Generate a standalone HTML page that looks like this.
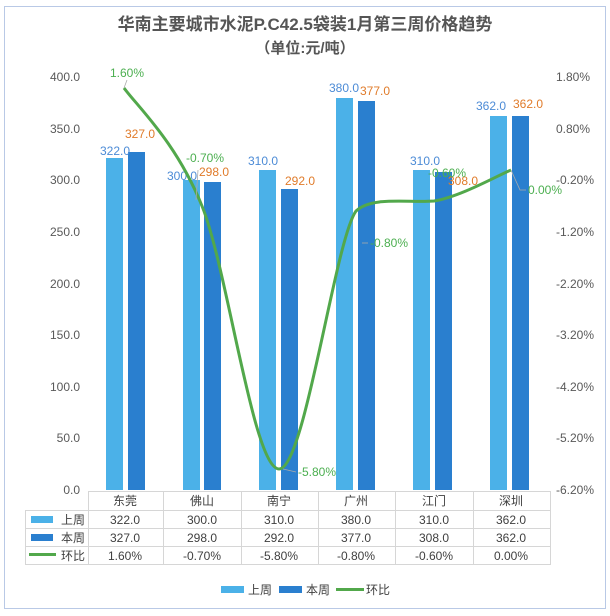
<!DOCTYPE html>
<html><head><meta charset="utf-8"><style>
html,body{margin:0;padding:0;background:#fff;}
svg{display:block;font-family:"Liberation Sans","Noto Sans CJK SC",sans-serif;}
</style></head><body>
<svg width="610" height="616" viewBox="0 0 610 616" xmlns="http://www.w3.org/2000/svg">
<rect x="4.5" y="6.5" width="601" height="602" fill="#fff" stroke="#b9c9e6" stroke-width="1"/>
<text x="305" y="30" text-anchor="middle" font-size="17" font-weight="bold" fill="#555">华南主要城市水泥P.C42.5袋装1月第三周价格趋势</text>
<text x="305" y="53" text-anchor="middle" font-size="15" font-weight="bold" fill="#555">（单位:元/吨）</text>
<g font-size="12" fill="#595959" text-anchor="end">
<text x="80" y="81">400.0</text><text x="80" y="133">350.0</text><text x="80" y="184">300.0</text><text x="80" y="236">250.0</text><text x="80" y="288">200.0</text><text x="80" y="339">150.0</text><text x="80" y="391">100.0</text><text x="80" y="442">50.0</text><text x="80" y="494">0.0</text>
</g>
<g font-size="12" fill="#595959" text-anchor="start">
<text x="556" y="81">1.80%</text><text x="556" y="133">0.80%</text><text x="556" y="184">-0.20%</text><text x="556" y="236">-1.20%</text><text x="556" y="288">-2.20%</text><text x="556" y="339">-3.20%</text><text x="556" y="391">-4.20%</text><text x="556" y="442">-5.20%</text><text x="556" y="494">-6.20%</text>
</g>
<g fill="#4bb1e8">
<rect x="106" y="158" width="17" height="332"/>
<rect x="183" y="180" width="17" height="310"/>
<rect x="259" y="170" width="17" height="320"/>
<rect x="336" y="98" width="17" height="392"/>
<rect x="413" y="170" width="17" height="320"/>
<rect x="490" y="116" width="17" height="374"/>
</g>
<g fill="#2a7fcf">
<rect x="128" y="152" width="17" height="338"/>
<rect x="204" y="182" width="17" height="308"/>
<rect x="281" y="189" width="17" height="301"/>
<rect x="358" y="101" width="17" height="389"/>
<rect x="435" y="172" width="17" height="318"/>
<rect x="512" y="116" width="17" height="374"/>
</g>
<g font-size="12" fill="#4c8bd6" text-anchor="middle">
<text x="115" y="155">322.0</text><text x="182" y="180">300.0</text><text x="263" y="165">310.0</text><text x="344" y="92">380.0</text><text x="425" y="165">310.0</text><text x="491" y="110">362.0</text>
</g>
<g font-size="12" fill="#e07b2a" text-anchor="middle">
<text x="140" y="138">327.0</text><text x="214" y="176">298.0</text><text x="300" y="185">292.0</text><text x="375" y="95">377.0</text><text x="463" y="185">308.0</text><text x="528" y="108">362.0</text>
</g>
<path d="M124,88 C137.8,106.8 176.3,142.3 202,206 C227.7,269.7 253.3,468.2 279,469 C304.7,469.8 335,240 356,211 C372,196 408,203 434,201 C459.8,197 498.2,175.2 511,170" fill="none" stroke="#52a84b" stroke-width="3"/>
<g stroke="#aaa" stroke-width="0.8" fill="none">
<path d="M124,88 L127,80"/><path d="M196,200 L198,170"/><path d="M283,469 L296,472"/><path d="M362,243 L368,243"/><path d="M511,170 L520,190 L526,190"/>
</g>
<g font-size="12" fill="#4caf50">
<text x="110" y="77">1.60%</text><text x="186" y="162">-0.70%</text><text x="298" y="476">-5.80%</text><text x="370" y="247">-0.80%</text><text x="428" y="177">-0.60%</text><text x="528" y="194">0.00%</text>
</g>
<g stroke="#d6d6d6" stroke-width="1" fill="none">
<path d="M88,491.5 H551 M25,510.5 H551 M25,528.5 H551 M25,546.5 H551 M25,564.5 H551"/>
<path d="M25.5,510 V565 M88.5,491 V565 M163.5,491 V565 M241.5,491 V565 M318.5,491 V565 M395.5,491 V565 M473.5,491 V565 M550.5,491 V565"/>
</g>
<g font-size="12" fill="#404040" text-anchor="middle">
<text x="125" y="505">东莞</text><text x="202" y="505">佛山</text><text x="279" y="505">南宁</text><text x="356" y="505">广州</text><text x="434" y="505">江门</text><text x="511" y="505">深圳</text>
<text x="125" y="524">322.0</text><text x="202" y="524">300.0</text><text x="279" y="524">310.0</text><text x="356" y="524">380.0</text><text x="434" y="524">310.0</text><text x="511" y="524">362.0</text>
<text x="125" y="542">327.0</text><text x="202" y="542">298.0</text><text x="279" y="542">292.0</text><text x="356" y="542">377.0</text><text x="434" y="542">308.0</text><text x="511" y="542">362.0</text>
<text x="125" y="560">1.60%</text><text x="202" y="560">-0.70%</text><text x="279" y="560">-5.80%</text><text x="356" y="560">-0.80%</text><text x="434" y="560">-0.60%</text><text x="511" y="560">0.00%</text>
</g>
<rect x="31" y="516" width="22" height="7" fill="#4bb1e8"/>
<rect x="31" y="534" width="22" height="7" fill="#2a7fcf"/>
<rect x="29" y="553" width="27" height="3" fill="#52a84b"/>
<g font-size="12" fill="#404040">
<text x="61" y="524">上周</text><text x="61" y="542">本周</text><text x="61" y="560">环比</text>
</g>
<rect x="221" y="586" width="23" height="7" fill="#4bb1e8"/>
<text x="248" y="594" font-size="12" fill="#404040">上周</text>
<rect x="279" y="586" width="23" height="7" fill="#2a7fcf"/>
<text x="306" y="594" font-size="12" fill="#404040">本周</text>
<rect x="336" y="588" width="28" height="3" fill="#52a84b"/>
<text x="366" y="594" font-size="12" fill="#404040">环比</text>
</svg>
</body></html>
